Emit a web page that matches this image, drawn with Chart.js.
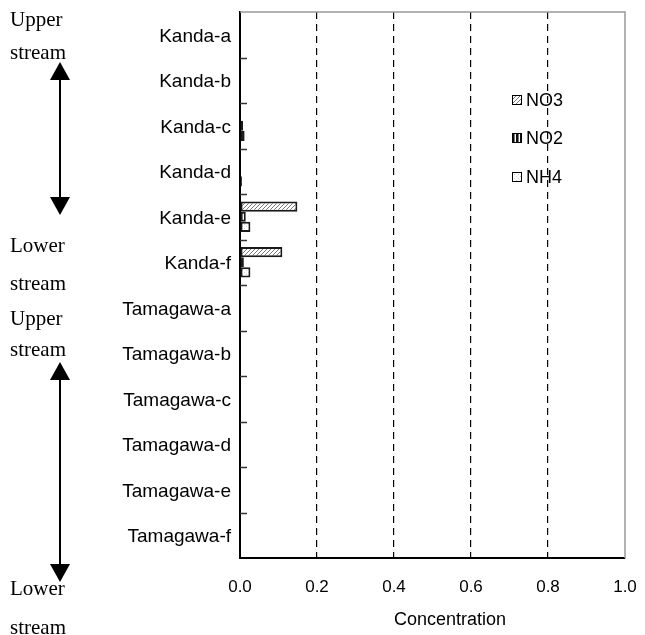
<!DOCTYPE html>
<html>
<head>
<meta charset="utf-8">
<script src="https://cdn.jsdelivr.net/npm/chart.js@4/dist/chart.umd.min.js"></script>
<style>
  html, body { margin: 0; padding: 0; background: #fff; }
  #wrap { width: 645px; height: 635px; position: relative; }
</style>
</head>
<body>
<div id="wrap"><canvas id="riverChart"></canvas></div>
<script>
// sampling sites, upstream to downstream
const sites = ['Kanda-a', 'Kanda-b', 'Kanda-c', 'Kanda-d', 'Kanda-e', 'Kanda-f',
               'Tamagawa-a', 'Tamagawa-b', 'Tamagawa-c', 'Tamagawa-d', 'Tamagawa-e', 'Tamagawa-f'];

const no3 = [0, 0, 0, 0, 0.149, 0.110, 0, 0, 0, 0, 0, 0];
const no2 = [0, 0, 0.008, 0, 0.015, 0.010, 0, 0, 0, 0, 0, 0];
const nh4 = [0, 0, 0.012, 0.005, 0.027, 0.027, 0, 0, 0, 0, 0, 0];

const xTicks = [0, 0.2, 0.4, 0.6, 0.8, 1.0];
const xTitle = 'Concentration';

const sansFont = "Arial, 'Liberation Sans', sans-serif";
const serifFont = "Garamond, 'Liberation Serif', serif";

function makePattern(kind) {
    const c = document.createElement('canvas');
    c.width = 4; c.height = 4;
    const p = c.getContext('2d');
    p.fillStyle = '#fff';
    p.fillRect(0, 0, 4, 4);
    if (kind === 'diag') {
        p.fillStyle = '#7a7a7a';
        for (let i = 0; i < 4; i++) p.fillRect(3 - i, i, 1, 1);
    } else if (kind === 'vert') {
        p.fillStyle = '#111';
        p.fillRect(0, 0, 2, 4);
        p.fillStyle = '#777';
        p.fillRect(2, 0, 1, 4);
    } else {
        p.fillStyle = '#d0d0d0';
        p.fillRect(0, 0, 1, 1);
        p.fillRect(2, 2, 1, 1);
    }
    return p.createPattern(c, 'repeat');
}

// inward ticks, grey frame, axis title, stream notes and the in-plot legend
const extras = {
    id: 'extras',
    afterDraw(chart) {
        const ctx = chart.ctx;
        const area = chart.chartArea;
        const y = chart.scales.y;
        ctx.save();

        // grey frame on top and right
        ctx.strokeStyle = '#999';
        ctx.lineWidth = 1.5;
        ctx.beginPath();
        ctx.moveTo(area.left, area.top);
        ctx.lineTo(area.right, area.top);
        ctx.lineTo(area.right, area.bottom);
        ctx.stroke();

        // category ticks pointing inside
        const step = y.getPixelForValue(1) - y.getPixelForValue(0);
        ctx.strokeStyle = '#333';
        ctx.lineWidth = 1.5;
        for (let i = 1; i < sites.length; i++) {
            const py = Math.round(y.getPixelForValue(i) - step / 2) + 0.5;
            ctx.beginPath();
            ctx.moveTo(area.left, py);
            ctx.lineTo(area.left + 7, py);
            ctx.stroke();
        }

        // x axis title, sits a bit right of centre in the original
        ctx.font = '18px ' + sansFont;
        ctx.fillStyle = '#000';
        ctx.textAlign = 'center';
        ctx.textBaseline = 'middle';
        ctx.fillText(xTitle, 450, 620);

        // legend
        ctx.textAlign = 'left';
        const legendY = [100, 138, 177];
        chart.data.datasets.forEach((ds, i) => {
            ctx.fillStyle = ds.backgroundColor;
            ctx.fillRect(512, legendY[i] - 5, 10, 10);
            ctx.strokeStyle = '#000';
            ctx.lineWidth = 1;
            ctx.strokeRect(512.5, legendY[i] - 4.5, 9, 9);
            ctx.fillStyle = '#000';
            ctx.fillText(ds.label, 526, legendY[i] + 1);
        });

        // stream direction notes
        ctx.font = '21px ' + serifFont;
        ctx.fillStyle = '#000';
        const notes = [['Upper', 20], ['stream', 53], ['Lower', 246], ['stream', 284],
                       ['Upper', 319], ['stream', 350], ['Lower', 589], ['stream', 628]];
        notes.forEach(([t, ty]) => ctx.fillText(t, 10, ty));

        function arrow(x, y0, y1) {
            ctx.strokeStyle = '#000';
            ctx.lineWidth = 2;
            ctx.beginPath();
            ctx.moveTo(x, y0 + 10);
            ctx.lineTo(x, y1 - 10);
            ctx.stroke();
            ctx.beginPath();
            ctx.moveTo(x, y0);
            ctx.lineTo(x - 10, y0 + 18);
            ctx.lineTo(x + 10, y0 + 18);
            ctx.closePath();
            ctx.fill();
            ctx.beginPath();
            ctx.moveTo(x, y1);
            ctx.lineTo(x - 10, y1 - 18);
            ctx.lineTo(x + 10, y1 - 18);
            ctx.closePath();
            ctx.fill();
        }
        arrow(60, 62, 215);
        arrow(60, 362, 582);

        ctx.restore();
    }
};

const ctx = document.getElementById('riverChart').getContext('2d');
new Chart(ctx, {
    type: 'bar',
    data: {
        labels: sites,
        datasets: [
            { label: 'NO3', data: no3, backgroundColor: makePattern('diag') },
            { label: 'NO2', data: no2, backgroundColor: makePattern('vert') },
            { label: 'NH4', data: nh4, backgroundColor: makePattern('dots') }
        ]
    },
    options: {
        indexAxis: 'y',
        responsive: true,
        maintainAspectRatio: false,
        animation: false,
        layout: { padding: { top: 12, right: 20, left: 0, bottom: 0 } },
        datasets: {
            bar: {
                barPercentage: 1,
                categoryPercentage: 0.667,
                borderColor: '#1a1a1a',
                borderWidth: 2,
                borderSkipped: false
            }
        },
        plugins: {
            legend: { display: false },
            tooltip: { enabled: false }
        },
        scales: {
            x: {
                min: 0,
                max: 1,
                afterBuildTicks: scale => { scale.ticks = xTicks.map(v => ({ value: v })); },
                afterFit: scale => {
                    scale.height = 77;
                    scale.paddingLeft = 0;
                    scale.paddingRight = 0;
                },
                ticks: {
                    callback: v => v.toFixed(1),
                    font: { family: sansFont, size: 17 },
                    color: '#000',
                    padding: 19,
                    maxRotation: 0
                },
                grid: {
                    drawTicks: false,
                    color: c => (c.tick && c.tick.value > 0.01 && c.tick.value < 0.99) ? '#000' : 'rgba(0,0,0,0)',
                    lineWidth: 1.2
                },
                border: { display: true, color: '#000', width: 2, dash: [7, 5] }
            },
            y: {
                offset: true,
                afterFit: scale => {
                    scale.width = 240;
                    scale.paddingTop = 0;
                    scale.paddingBottom = 0;
                },
                ticks: {
                    font: { family: sansFont, size: 19 },
                    color: '#000',
                    padding: 9,
                    labelOffset: 2
                },
                grid: { display: false, drawTicks: false },
                border: { display: true, color: '#000', width: 2 }
            }
        }
    },
    plugins: [extras]
});
</script>
</body>
</html>
